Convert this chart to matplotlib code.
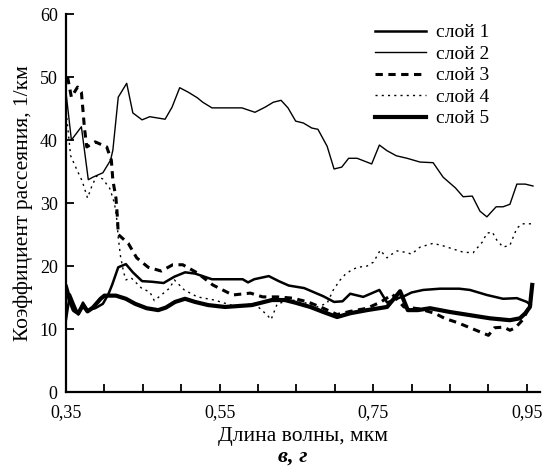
import matplotlib
matplotlib.use('Agg')
import matplotlib.pyplot as plt
from matplotlib.ticker import MultipleLocator, FuncFormatter

plt.rcParams['font.family'] = ['Liberation Serif', 'DejaVu Serif']

# слой 1
x1 = [0.350, 0.355, 0.360, 0.366, 0.372, 0.378, 0.388, 0.398, 0.405, 0.410, 0.418, 0.428,
      0.437, 0.449, 0.462, 0.477, 0.491, 0.505, 0.518, 0.540, 0.580, 0.587, 0.595, 0.614,
      0.627, 0.640, 0.660, 0.685, 0.699, 0.710, 0.720, 0.737, 0.758, 0.768, 0.780, 0.790,
      0.800, 0.815, 0.837, 0.862, 0.876, 0.898, 0.919, 0.937, 0.950, 0.955]
y1 = [11.5, 15.5, 14.0, 12.3, 14.2, 13.0, 13.3, 14.0, 15.5, 17.0, 19.8, 20.3,
      19.0, 17.6, 17.5, 17.3, 18.3, 19.0, 18.8, 17.9, 17.9, 17.4, 17.9, 18.4,
      17.6, 16.9, 16.5, 15.2, 14.3, 14.4, 15.6, 15.1, 16.2, 14.2, 14.8, 15.2,
      15.8, 16.2, 16.4, 16.4, 16.2, 15.4, 14.8, 14.9, 14.3, 13.8]

# слой 2
x2 = [0.350, 0.357, 0.370, 0.379, 0.385, 0.398, 0.408, 0.411, 0.418, 0.429, 0.437, 0.449,
      0.459, 0.479, 0.488, 0.498, 0.509, 0.521, 0.528, 0.540, 0.579, 0.596, 0.609, 0.620,
      0.630, 0.639, 0.649, 0.659, 0.670, 0.678, 0.690, 0.699, 0.709, 0.718, 0.729, 0.748,
      0.758, 0.768, 0.780, 0.794, 0.811, 0.828, 0.841, 0.857, 0.867, 0.879, 0.889, 0.898,
      0.910, 0.919, 0.928, 0.937, 0.948, 0.958]
y2 = [47.5, 40.0, 42.1, 33.7, 34.1, 34.8, 36.8, 38.4, 46.8, 49.0, 44.3, 43.2,
      43.7, 43.3, 45.2, 48.3, 47.6, 46.7, 46.0, 45.1, 45.1, 44.4, 45.2, 46.0,
      46.3, 45.1, 43.0, 42.7, 41.9, 41.7, 39.0, 35.4, 35.7, 37.1, 37.1, 36.2,
      39.2, 38.3, 37.5, 37.1, 36.5, 36.4, 34.1, 32.4, 31.0, 31.1, 28.7, 27.8,
      29.4, 29.4, 29.8, 33.0, 33.0, 32.7]

# слой 3
x3 = [0.352, 0.357, 0.365, 0.370, 0.372, 0.374, 0.377, 0.388, 0.403, 0.409, 0.411, 0.415,
      0.417, 0.418, 0.431, 0.442, 0.457, 0.474, 0.489, 0.502, 0.521, 0.541, 0.567, 0.590,
      0.606, 0.625, 0.645, 0.665, 0.685, 0.703, 0.720, 0.742, 0.760, 0.775, 0.790, 0.810,
      0.830, 0.843, 0.860, 0.876, 0.890, 0.900, 0.908, 0.920, 0.928, 0.935, 0.945, 0.955]
y3 = [50.0, 46.8, 48.4, 47.6, 44.8, 41.9, 38.9, 39.7, 38.9, 36.8, 33.6, 30.8,
      27.6, 25.0, 23.6, 21.3, 19.8, 19.2, 20.2, 20.2, 18.9, 17.0, 15.4, 15.7,
      15.1, 15.1, 14.9, 14.3, 13.3, 12.3, 12.8, 13.3, 14.3, 15.5, 13.5, 13.2,
      12.5, 11.7, 11.0, 10.2, 9.5, 9.0, 10.2, 10.3, 9.8, 10.2, 11.5, 14.0]

# слой 4
x4 = [0.351, 0.356, 0.364, 0.371, 0.378, 0.384, 0.390, 0.398, 0.407, 0.413, 0.416, 0.418,
      0.421, 0.425, 0.428, 0.435, 0.449, 0.459, 0.465, 0.477, 0.485, 0.491, 0.504, 0.521,
      0.543, 0.573, 0.595, 0.612, 0.617, 0.625, 0.640, 0.651, 0.677, 0.690, 0.698, 0.707,
      0.713, 0.722, 0.730, 0.742, 0.750, 0.755, 0.759, 0.768, 0.772, 0.781, 0.791, 0.800,
      0.811, 0.828, 0.841, 0.854, 0.867, 0.880, 0.892, 0.898, 0.905, 0.911, 0.919, 0.928,
      0.937, 0.944, 0.957]
y4 = [43.5, 37.5, 35.3, 33.5, 30.8, 32.8, 34.3, 33.8, 32.3, 30.0, 27.5, 24.5,
      21.5, 19.0, 17.8, 18.1, 16.4, 15.9, 14.5, 15.7, 16.5, 17.8, 16.2, 15.1,
      14.6, 13.5, 14.1, 12.2, 11.5, 14.0, 14.5, 14.6, 13.5, 14.1, 16.2, 17.8,
      18.6, 19.4, 19.8, 20.0, 20.6, 21.6, 22.5, 21.3, 21.7, 22.4, 22.2, 21.9,
      23.0, 23.6, 23.2, 22.7, 22.2, 22.1, 23.8, 25.2, 25.4, 24.1, 23.0, 23.3,
      26.0, 26.7, 26.7]

# слой 5
x5 = [0.350, 0.355, 0.360, 0.366, 0.372, 0.378, 0.385, 0.395, 0.400, 0.415, 0.428, 0.440,
      0.455, 0.470, 0.480, 0.492, 0.505, 0.518, 0.535, 0.557, 0.592, 0.618, 0.635, 0.648,
      0.668, 0.685, 0.703, 0.720, 0.742, 0.768, 0.785, 0.795, 0.808, 0.824, 0.850, 0.876,
      0.902, 0.928, 0.941, 0.948, 0.954, 0.957]
y5 = [16.7, 14.5, 13.0, 12.5, 13.8, 12.8, 13.4, 14.8, 15.3, 15.3, 14.8, 14.0,
      13.3, 13.0, 13.4, 14.3, 14.8, 14.3, 13.8, 13.5, 13.8, 14.6, 14.6, 14.2,
      13.5, 12.7, 11.9, 12.5, 13.0, 13.5, 16.0, 13.0, 13.0, 13.3, 12.7, 12.2,
      11.7, 11.4, 11.7, 12.5, 13.5, 17.0]

fig = plt.figure(figsize=(5.47, 4.73), dpi=100)
ax = fig.add_axes([0.1207, 0.1712, 0.8663, 0.7992])

ax.plot(x1, y1, color='black', lw=1.8, label='слой 1')
ax.plot(x2, y2, color='black', lw=1.0, label='слой 2')
ax.plot(x3, y3, color='black', lw=2.2, dashes=(2.4, 1.8), label='слой 3')
ax.plot(x4, y4, color='black', lw=1.0, dashes=(1.5, 3), label='слой 4')
ax.plot(x5, y5, color='black', lw=3.0, label='слой 5')

ax.set_xlim(0.35, 0.967)
ax.set_ylim(0, 60)
ax.xaxis.set_minor_locator(MultipleLocator(0.05))
ax.set_xticks([0.35, 0.55, 0.75, 0.95])
ax.yaxis.set_major_locator(MultipleLocator(10))
ax.xaxis.set_major_formatter(FuncFormatter(lambda v, p: ('%.2f' % v).replace('.', ',')))

for s in ['top', 'right']:
    ax.spines[s].set_visible(False)
for s in ['left', 'bottom']:
    ax.spines[s].set_linewidth(1.6)

ax.tick_params(axis='both', which='both', direction='in', width=1.3, length=6, labelsize=13)
ax.tick_params(axis='x', pad=9)
ax.tick_params(axis='y', pad=6)

ax.set_xlabel('Длина волны, мкм', fontsize=15.5, labelpad=4)
ax.set_ylabel('Коэффициент рассеяния, 1/км', fontsize=15.5, labelpad=5)

ax.legend(loc='upper left', bbox_to_anchor=(0.632, 1.0), frameon=False, fontsize=14,
          handlelength=2.6, handletextpad=0.5, labelspacing=0.2, borderaxespad=0.1)

fig.text(0.535, 0.025, 'в, г', fontsize=16, fontweight='bold', fontstyle='italic', ha='center')

fig.savefig('out.png', dpi=100)
